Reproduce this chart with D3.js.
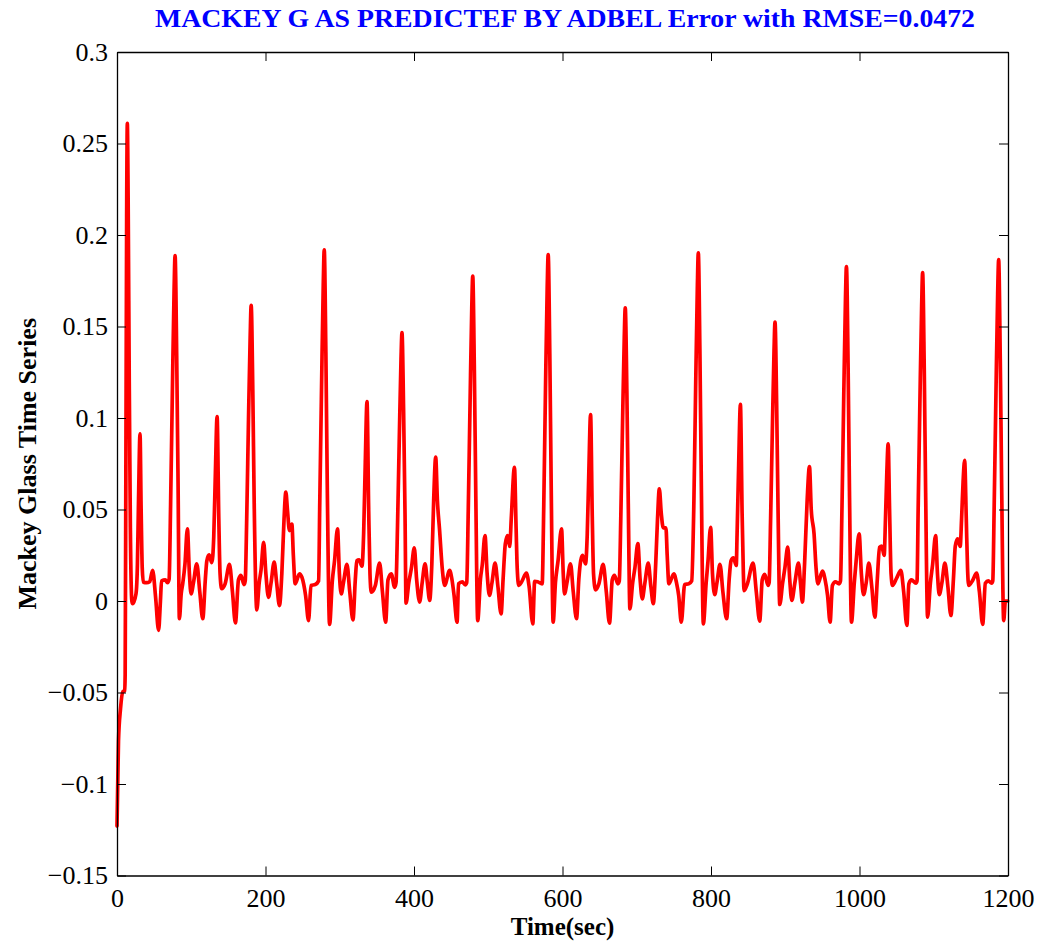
<!DOCTYPE html>
<html>
<head>
<meta charset="utf-8">
<script src="https://cdn.jsdelivr.net/npm/d3@7"></script>
<style>
  html, body { margin: 0; padding: 0; background: #ffffff; }
  svg { display: block; }
  .tick text { font-family: 'Liberation Serif', 'Times New Roman', Times, serif !important; font-size: 26px !important; }
</style>
</head>
<body>
<svg id="chart" width="1045" height="941"></svg>
<script>
// Prediction error of the Mackey-Glass series over time
const timeSec = [
  0, 2, 4.7, 8, 10.4, 11, 12, 13, 13.9, 15, 16.5, 18, 20, 21.1, 25.6, 27.5, 29, 31, 32.5, 34, 35.5,
  40, 44, 48, 52, 56, 58.5, 60, 65, 68, 70.2, 72.2, 74.6, 76.9, 78.2, 80.4, 82.3, 84,
  86.5, 88.5, 91.5, 94.8, 97.5, 99.8, 103, 107.4, 111.5, 115.5, 119, 121, 124, 127.7,
  130.3, 132.5, 134.8, 137.1, 138.8, 141, 145.6, 151.5, 155.5, 159.5, 163.6, 167, 171, 172.7,
  174.7, 177.1, 179.4, 180.7, 182.9, 184.8, 188.3, 191.5, 194, 197.5, 200.5, 204, 207.5, 211.7,
  215, 218.8, 222, 225, 227.4, 229.5, 232.3, 235.5, 237.5, 240, 245.8, 249, 254, 258,
  261.2, 267, 271.5, 273.1, 275.5, 277.8, 279.1, 281.3, 283.2, 286.3, 290, 293, 297, 299.5,
  302, 305, 309.7, 313.5, 317.8, 321, 323, 326, 329.9, 332.2, 334.4, 336.7, 339, 340.7, 342.5,
  347.9, 353.7, 357.5, 361.8, 365, 369.4, 373.9, 375.8, 377.8, 380.2, 382.5, 383.8, 386, 387.9,
  389.3, 393, 396.5, 400.4, 403.5, 407.6, 411, 414.9, 418, 421.1, 424, 426.5, 429.2, 431.5,
  434.5, 438, 441.3, 448, 451, 454, 458, 460, 465, 469, 471, 473.1, 475.5, 477.8, 479.1,
  481.3, 483.2, 485.8, 489.5, 492, 495.6, 498.5, 501.6, 505, 509.2, 513, 517.3, 520, 523,
  526, 528.9, 531, 535.3, 537.5, 539, 541.1, 545, 551.4, 555, 560, 562.5, 566.5, 572.6,
  574.8, 577.1, 579.4, 580.7, 582.9, 584.8, 587.4, 590.5, 594, 598.7, 601, 602.7, 606, 610.8,
  614.5, 618.9, 622, 624.5, 627, 631, 633.3, 635.5, 637.8, 640.1, 641.8, 644.5, 649, 654.8,
  659, 663.3, 667, 670, 674.6, 676.5, 678.5, 680.9, 683.2, 684.5, 686.7, 688.6, 690.8, 694.5,
  697.5, 701.5, 704.5, 707.4, 711, 715.5, 719, 722.3, 725.5, 728, 730.4, 733, 735.7, 739.3,
  741, 743.3, 750, 753.5, 756.5, 760, 764.5, 770, 774, 776.9, 779.3, 781.6, 782.9, 785.1,
  787, 789.7, 793.5, 796, 799.5, 802, 805, 808, 812.1, 816, 821.1, 824.5, 827, 830.1, 834,
  835.1, 837.3, 839.6, 841.9, 843.6, 844.5, 849, 856.7, 861, 865.6, 869, 872.4, 876.8, 878.3,
  880.2, 882.6, 884.9, 886.2, 888.4, 890.3, 892.6, 896.5, 899.5, 903.4, 906, 908.8, 913, 917.8,
  920.5, 923.1, 926, 929.5, 932.6, 935, 938.8, 941.5, 944, 950.1, 953.5, 957, 960.4, 963.5,
  967.5, 972.5, 974.4, 976.4, 978.8, 981.1, 982.4, 984.6, 986.5, 989.2, 993, 995.5, 999.5,
  1002.5, 1005.4, 1009, 1012.6, 1016.5, 1020.7, 1024, 1027, 1030, 1033.2, 1035, 1036.8, 1038.6,
  1040.5, 1042.5, 1044.5, 1050, 1055.7, 1059.5, 1063.8, 1066.5, 1070, 1076, 1077.5, 1079, 1081.4,
  1083.7, 1085, 1087.2, 1089.1, 1091.7, 1095.5, 1098.5, 1102.5, 1105, 1107.4, 1111, 1115, 1119,
  1123.1, 1126.5, 1129, 1132.1, 1135.6, 1137.5, 1139.5, 1141.6, 1143.8, 1145.5, 1147, 1152,
  1157.8, 1161.5, 1165.9, 1169.5, 1173.5, 1178, 1179.5, 1181.4, 1183.8, 1186.1, 1187.4, 1189.6,
  1191.5, 1194.2, 1196.5, 1199.6
];

const errorValue = [
  -0.123, -0.0766, -0.059, -0.0495, -0.049, -0.04, 0.08, 0.21, 0.261, 0.22, 0.12, 0.04, 0.0, -0.0015, 0.004, 0.02, 0.055, 0.0913, 0.05, 0.018, 0.0103,
  0.010, 0.0105, 0.0167, 0.002, -0.016, 0.0, 0.011, 0.0115, 0.010, 0.012, 0.053, 0.115, 0.17, 0.1888, 0.134, 0.062, -0.0097,
  0.004, 0.0094, 0.02, 0.0394, 0.015, 0.0039, 0.01, 0.0203, 0.005, -0.0097, 0.012, 0.022, 0.0252, 0.021,
  0.035, 0.07, 0.1008, 0.045, 0.015, 0.0067, 0.0094, 0.02, 0.005, -0.012, 0.0116, 0.014, 0.009, 0.011,
  0.045, 0.099, 0.145, 0.1615, 0.115, 0.053, -0.0048, 0.01, 0.017, 0.032, 0.015, 0.002, 0.01, 0.0212,
  0.01, -0.0025, 0.015, 0.045, 0.0595, 0.05, 0.0385, 0.042, 0.025, 0.0094, 0.0149, 0.013, 0.003, -0.0107,
  0.0085, 0.009, 0.011, 0.054, 0.117, 0.173, 0.1919, 0.136, 0.063, -0.0128, 0.011, 0.022, 0.0394, 0.015,
  0.0039, 0.01, 0.02, 0.005, -0.0103, 0.012, 0.022, 0.0225, 0.019, 0.037, 0.076, 0.109, 0.049, 0.015, 0.0048,
  0.0085, 0.0207, 0.005, -0.0116, 0.0116, 0.0149, 0.0075, 0.01, 0.041, 0.089, 0.132, 0.1466, 0.104, 0.048,
  -0.0012, 0.01, 0.018, 0.029, 0.012, -0.0006, 0.01, 0.0203, 0.01, 0.0003, 0.02, 0.055, 0.0786, 0.055,
  0.0385, 0.018, 0.0085, 0.0167, 0.012, 0.003, -0.0116, 0.0094, 0.0105, 0.0088, 0.01, 0.05, 0.108, 0.16, 0.1775,
  0.126, 0.059, -0.0107, 0.012, 0.02, 0.0358, 0.015, 0.003, 0.01, 0.0207, 0.008, -0.007, 0.012, 0.0313,
  0.0358, 0.0298, 0.045, 0.0731, 0.04, 0.018, 0.0085, 0.0105, 0.0152, 0.008, -0.0125, 0.0108, 0.0105, 0.0094,
  0.053, 0.116, 0.171, 0.1893, 0.135, 0.062, -0.0116, 0.01, 0.022, 0.0394, 0.015, 0.0039, 0.01, 0.0203,
  0.005, -0.0097, 0.012, 0.022, 0.0249, 0.0203, 0.036, 0.071, 0.1019, 0.046, 0.015, 0.0061, 0.0094, 0.02,
  0.005, -0.0121, 0.0116, 0.014, 0.0094, 0.011, 0.045, 0.098, 0.144, 0.1602, 0.114, 0.053, -0.0043, 0.01,
  0.018, 0.0313, 0.012, 0.0012, 0.01, 0.0207, 0.008, -0.0015, 0.02, 0.045, 0.0613, 0.048, 0.04, 0.04,
  0.025, 0.0094, 0.0149, 0.01, 0.003, -0.0116, 0.009, 0.0094, 0.011, 0.053, 0.116, 0.171, 0.1903, 0.135,
  0.063, -0.0125, 0.01, 0.022, 0.0403, 0.015, 0.0035, 0.01, 0.02, 0.005, -0.0097, 0.012, 0.022, 0.0236, 0.0194,
  0.036, 0.075, 0.1074, 0.048, 0.015, 0.0057, 0.0094, 0.0207, 0.005, -0.011, 0.0116, 0.0145, 0.0085, 0.01,
  0.043, 0.093, 0.137, 0.1524, 0.108, 0.05, -0.0019, 0.01, 0.018, 0.0294, 0.012, 0.0003, 0.01, 0.0207,
  0.01, -0.0006, 0.02, 0.055, 0.0735, 0.05, 0.0367, 0.018, 0.0094, 0.0163, 0.012, 0.003, -0.0116, 0.0085,
  0.0105, 0.0094, 0.011, 0.051, 0.112, 0.165, 0.1828, 0.13, 0.06, -0.0116, 0.01, 0.022, 0.0367,
  0.015, 0.0035, 0.01, 0.0207, 0.008, -0.0088, 0.012, 0.0294, 0.03, 0.0249, 0.045, 0.07, 0.0859,
  0.05, 0.015, 0.0085, 0.0125, 0.0167, 0.005, -0.0134, 0.0094, 0.0115, 0.0097, 0.011, 0.05, 0.11,
  0.161, 0.1794, 0.127, 0.059, -0.0088, 0.01, 0.02, 0.0358, 0.015, 0.0035, 0.01, 0.0207, 0.008,
  -0.0079, 0.012, 0.03, 0.034, 0.0298, 0.045, 0.065, 0.0768, 0.045, 0.018, 0.0085, 0.011,
  0.0152, 0.005, -0.0128, 0.0097, 0.011, 0.0097, 0.011, 0.052, 0.114, 0.168, 0.1865, 0.132,
  0.062, -0.0107, 0.0, 0.0
];

const xTickValues = [0, 200, 400, 600, 800, 1000, 1200];
const yTickValues = [-0.15, -0.1, -0.05, 0, 0.05, 0.1, 0.15, 0.2, 0.25, 0.3];
const yTickLabels = ["\u22120.15", "\u22120.1", "\u22120.05", "0", "0.05", "0.1", "0.15", "0.2", "0.25", "0.3"];

const titleText = "MACKEY G AS PREDICTEF BY ADBEL Error with RMSE=0.0472";
const xLabelText = "Time(sec)";
const yLabelText = "Mackey Glass Time Series";

const svg = d3.select("#chart");
const plot = { left: 117, right: 1008, top: 52, bottom: 875.5 };
const serif = "'Liberation Serif', 'Times New Roman', Times, serif";

const x = d3.scaleLinear().domain([0, 1200]).range([plot.left, plot.right]);
const y = d3.scaleLinear().domain([-0.15, 0.3]).range([plot.bottom, plot.top]);

svg.append("rect").attr("width", 1045).attr("height", 941).attr("fill", "#ffffff");

// Series
const points = timeSec.map((t, i) => [t, errorValue[i]]);
svg.append("path")
  .datum(points)
  .attr("fill", "none")
  .attr("stroke", "#ff0000")
  .attr("stroke-width", 3.7)
  .attr("stroke-linejoin", "round")
  .attr("stroke-linecap", "round")
  .attr("d", d3.line().x(d => x(d[0])).y(d => y(d[1])).curve(d3.curveMonotoneX));

// Axes (box with ticks pointing inward on all four sides)
const tickLen = 9;
const fmtY = v => yTickLabels[yTickValues.indexOf(v)];

function styleAxis(g) {
  g.attr("font-family", serif).attr("font-size", 26);
  g.select(".domain").attr("stroke", "#000").attr("stroke-width", 1.3);
  g.selectAll(".tick line").attr("stroke", "#000").attr("stroke-width", 1);
  g.selectAll(".tick text").attr("fill", "#000");
}

svg.append("g").attr("transform", `translate(0,${plot.bottom})`)
  .call(d3.axisBottom(x).tickValues(xTickValues).tickSizeInner(-tickLen).tickSizeOuter(0).tickPadding(13).tickFormat(d3.format("d")))
  .call(styleAxis);

svg.append("g").attr("transform", `translate(0,${plot.top})`)
  .call(d3.axisTop(x).tickValues(xTickValues).tickSizeInner(-tickLen).tickSizeOuter(0).tickFormat(""))
  .call(styleAxis);

svg.append("g").attr("transform", `translate(${plot.left},0)`)
  .call(d3.axisLeft(y).tickValues(yTickValues).tickSizeInner(-tickLen).tickSizeOuter(0).tickPadding(9).tickFormat(fmtY))
  .call(styleAxis);

svg.append("g").attr("transform", `translate(${plot.right},0)`)
  .call(d3.axisRight(y).tickValues(yTickValues).tickSizeInner(-tickLen).tickSizeOuter(0).tickFormat(""))
  .call(styleAxis);

// Title and axis labels
svg.append("text")
  .attr("x", 565).attr("y", 27)
  .attr("text-anchor", "middle")
  .attr("textLength", 820).attr("lengthAdjust", "spacingAndGlyphs")
  .attr("fill", "#0000ff")
  .style("font-family", serif).style("font-weight", "bold").style("font-size", "26px")
  .text(titleText);

svg.append("text")
  .attr("x", (plot.left + plot.right) / 2).attr("y", 935)
  .attr("text-anchor", "middle")
  .attr("fill", "#000")
  .style("font-family", serif).style("font-weight", "bold").style("font-size", "25px")
  .text(xLabelText);

svg.append("text")
  .attr("transform", `translate(36,${(plot.top + plot.bottom) / 2}) rotate(-90)`)
  .attr("text-anchor", "middle")
  .attr("fill", "#000")
  .style("font-family", serif).style("font-weight", "bold").style("font-size", "26px")
  .text(yLabelText);
</script>
</body>
</html>
